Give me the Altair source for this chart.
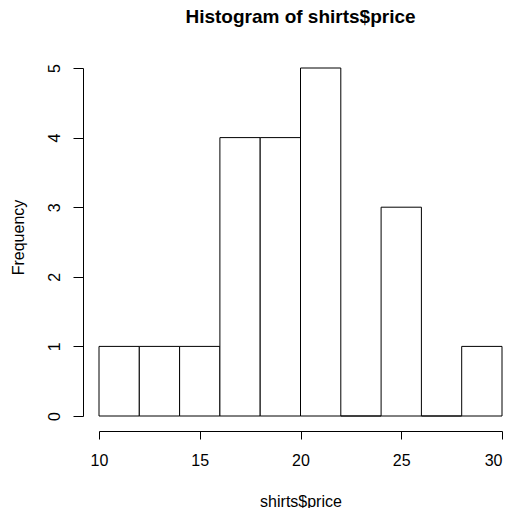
import altair as alt
import pandas as pd

bin_start = [10, 12, 14, 16, 18, 20, 22, 24, 26, 28]
bin_end = [12, 14, 16, 18, 20, 22, 24, 26, 28, 30]
counts = [1, 1, 1, 4, 4, 5, 0, 3, 0, 1]
x_ticks = [10, 15, 20, 25, 30]
y_ticks = [0, 1, 2, 3, 4, 5]

df = pd.DataFrame({"start": bin_start, "end": bin_end, "count": counts})

FONT = "Liberation Sans"

chart = alt.Chart(df).mark_rect(
    fill="white", stroke="black", strokeWidth=1
).encode(
    x=alt.X("start:Q",
            scale=alt.Scale(domain=[10, 30], nice=False, zero=False),
            axis=alt.Axis(values=x_ticks, title="shirts$price", grid=False,
                          offset=15, tickSize=8, domainColor="black", tickColor="black",
                          labelColor="black", labelFontSize=16, labelFont=FONT,
                          labelBaseline="alphabetic", labelPadding=26,
                          labelFlush=False, labelOverlap=False,
                          labelAlign={"condition": {"test": "datum.value == 30", "value": "right"},
                                      "value": "center"},
                          titleFont=FONT, titleFontSize=16, titleFontWeight="normal",
                          titleColor="black", titleBaseline="alphabetic",
                          titleX=201.5, titleY=75)),
    x2="end:Q",
    y=alt.Y("count:Q",
            scale=alt.Scale(domain=[0, 5], nice=False),
            axis=alt.Axis(values=y_ticks, title="Frequency", grid=False,
                          offset=16, tickSize=10, domainColor="black", tickColor="black",
                          labelColor="black", labelFontSize=16, labelFont=FONT,
                          labelAngle=270, labelAlign="center", labelBaseline="alphabetic",
                          labelPadding=14, labelFlush=False, labelOverlap=False,
                          titleFont=FONT, titleFontSize=16, titleFontWeight="normal",
                          titleColor="black", titleAngle=270, titleBaseline="alphabetic",
                          titleAlign="center", titleX=-60, titleY=169)),
    y2=alt.Y2(datum=0),
).properties(
    width=403,
    height=348,
    title=alt.TitleParams("Histogram of shirts$price", font=FONT, fontSize=19,
                          fontWeight="bold", color="black", anchor="middle",
                          baseline="alphabetic", offset=22),
    autosize=alt.AutoSizeParams(type="none"),
    padding={"left": 91, "top": 60, "right": 3, "bottom": 92},
).configure_view(stroke=None)

chart.save("out.html", embed_options={"renderer": "svg", "actions": False})
